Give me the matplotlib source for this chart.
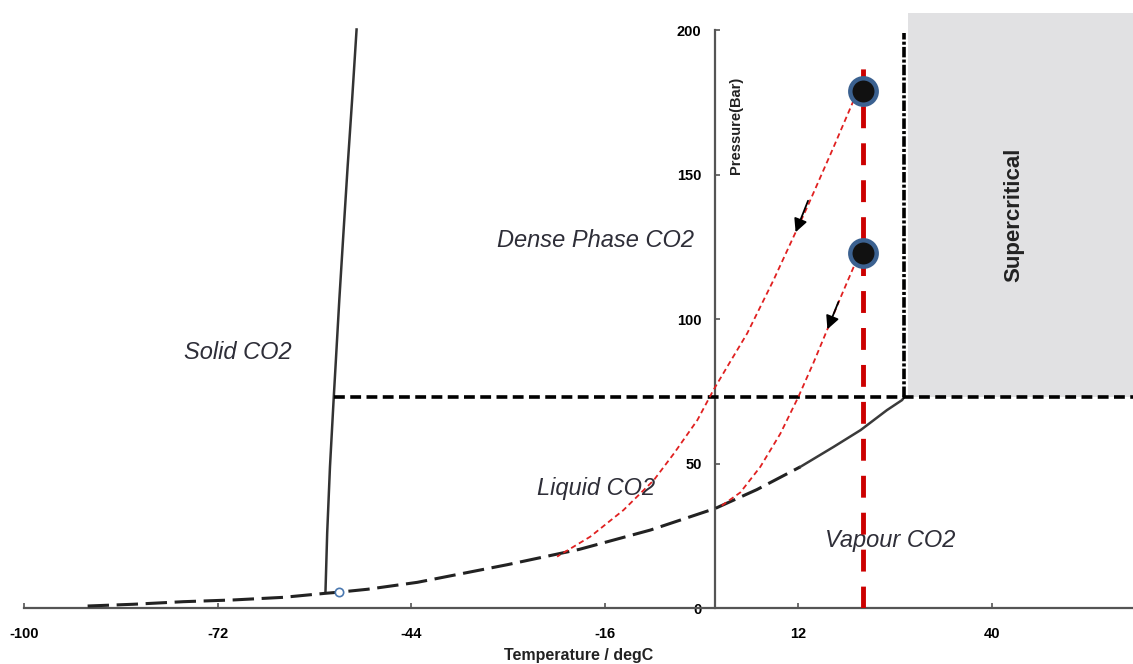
import matplotlib
matplotlib.use("Agg")
import matplotlib.pyplot as plt

# melting line (solid / liquid)
melt_t = [-56.4, -56.15, -55.75, -55.2, -54.95, -54.4, -53.8, -53.2, -52.55, -51.9]
melt_p = [5.5, 26.0, 48.8, 73.0, 83.4, 106.6, 129.8, 152.6, 175.8, 200.3]

# sublimation + vapour pressure curve, dashed part
vap_t = [-90.8, -84.2, -76.9, -69.7, -62.5, -56.4, -54.4, -50.3, -43.1, -30.1, -19.7, -9.4, 0.0, 6.0, 12.3]
vap_p = [0.7, 1.3, 2.2, 2.8, 3.7, 5.1, 5.5, 6.5, 8.9, 15.0, 20.3, 27.0, 34.5, 41.0, 48.9]
# solid part up to the critical point
vap2_t = [12.3, 17.1, 21.0, 24.8, 27.0, 27.3]
vap2_p = [48.9, 55.8, 61.6, 68.5, 72.0, 73.0]

triple_t, triple_p = -54.4, 5.5
crit_t, crit_p = 27.3, 73.0
crit_top = 199
melt_at_crit = -55.2
super_left = 27.8

# red depressurisation paths
path1_t = [20.0, 17.1, 13.3, 8.4, 4.6, 1.7, -0.3, -2.6, -6.0, -8.9, -13.3, -18.1, -22.9]
path1_p = [175.8, 159.6, 138.9, 113.5, 95.1, 83.5, 75.4, 65.1, 53.5, 44.3, 33.9, 24.7, 17.8]
path2_t = [20.0, 18.1, 16.2, 14.2, 12.0, 9.4, 6.5, 3.6, 0.7]
path2_p = [118.1, 107.5, 96.5, 85.0, 73.1, 60.4, 48.9, 40.0, 35.1]

# arrow heads on the paths: (tip, tail)
arrow1 = [(11.6, 130.1), (13.4, 141.0)]
arrow2 = [(16.2, 96.5), (17.8, 106.0)]

op_t = 21.3
op_p = [0, 189]
dots_t = [21.4, 21.4]
dots_p = [179, 122.8]

xticks = [-100, -72, -44, -16, 12, 40]
yticks = [0, 50, 100, 150, 200]
x_lo, x_hi = -100, 60.4
y_lo, y_hi = 0, 206

plt.rcParams['font.family'] = ['Liberation Sans', 'DejaVu Sans']
plt.rcParams['axes.unicode_minus'] = False

fig = plt.figure(figsize=(11.33, 6.64), dpi=100)
ax = fig.add_axes([0.0212, 0.0843, 0.9788, 0.8961])
ax.set_xlim(x_lo, x_hi)
ax.set_ylim(y_lo, y_hi)

ax.fill_between([super_left, x_hi], crit_p, y_hi, color='#e1e1e3', lw=0, zorder=0)

ax.plot(melt_t, melt_p, color='#333333', lw=1.8, zorder=3)
ax.plot(vap_t, vap_p, color='#222222', lw=2.2, linestyle=(0, (7, 2.5)), zorder=3)
ax.plot(vap2_t, vap2_p, color='#3a3a3a', lw=1.8, zorder=3)

ax.hlines(crit_p, melt_at_crit, x_hi, color='black', lw=2.6, linestyles=[(0, (3.0, 1.5))], zorder=3)
ax.vlines(crit_t, crit_p, crit_top, color='black', lw=2.6, linestyles=[(0, (2.9, 0.6, 0.85, 0.6))], zorder=3)

ax.plot(path1_t, path1_p, color='#e02020', lw=1.3, linestyle=(0, (3, 2)), zorder=4)
ax.plot(path2_t, path2_p, color='#e02020', lw=1.3, linestyle=(0, (3, 2)), zorder=4)
ax.vlines(op_t, op_p[0], op_p[1], color='#cc0000', lw=3.5, linestyles=[(0, (4.5, 3.1))], zorder=4)
ax.plot(dots_t, dots_p, linestyle='none', marker='o', markersize=19, markerfacecolor='#111111',
        markeredgecolor='#3b6190', markeredgewidth=3.2, zorder=6)
ax.plot([triple_t], [triple_p], linestyle='none', marker='o', markersize=6, markerfacecolor='white',
        markeredgecolor='#4a78b0', markeredgewidth=1.2, zorder=6)

for tip, tail in (arrow1, arrow2):
    ax.annotate('', xy=tip, xytext=tail,
                arrowprops=dict(arrowstyle='-|>', color='black', lw=1.3, mutation_scale=20,
                                shrinkA=0, shrinkB=0), zorder=7)

lab = dict(fontsize=17, style='italic', color='#2e2e38', ha='center', va='center')
ax.text(-69.1, 88.6, 'Solid CO2', **lab)
ax.text(-17.3, 127.3, 'Dense Phase CO2', **lab)
ax.text(-17.3, 41.5, 'Liquid CO2', **lab)
ax.text(25.3, 23.5, 'Vapour CO2', **lab)
ax.text(43.1, 136, 'Supercritical', rotation=90, fontsize=16, fontweight='bold',
        color='#222222', ha='center', va='center')
ax.text(3.0, 167, 'Pressure(Bar)', rotation=90, fontsize=10.5, fontweight='bold',
        color='#222222', ha='center', va='center')

for s in ['top', 'right']:
    ax.spines[s].set_visible(False)
ax.spines['left'].set_position(('data', 0))
ax.spines['left'].set_bounds(0, 200)
for s in ['left', 'bottom']:
    ax.spines[s].set_color('#555555')
    ax.spines[s].set_linewidth(1.6)

ax.set_xticks(xticks)
ax.set_yticks(yticks)
ax.tick_params(axis='both', direction='in', length=3.5, width=1.2, color='#555555',
               labelsize=10.5)
ax.tick_params(axis='x', pad=14)
ax.tick_params(axis='y', pad=10)
for t in ax.get_xticklabels() + ax.get_yticklabels():
    t.set_fontweight('bold')

ax.set_xlabel('Temperature / degC', fontsize=11.5, fontweight='bold', color='#222222', labelpad=5)

fig.savefig('out.png', dpi=100)
